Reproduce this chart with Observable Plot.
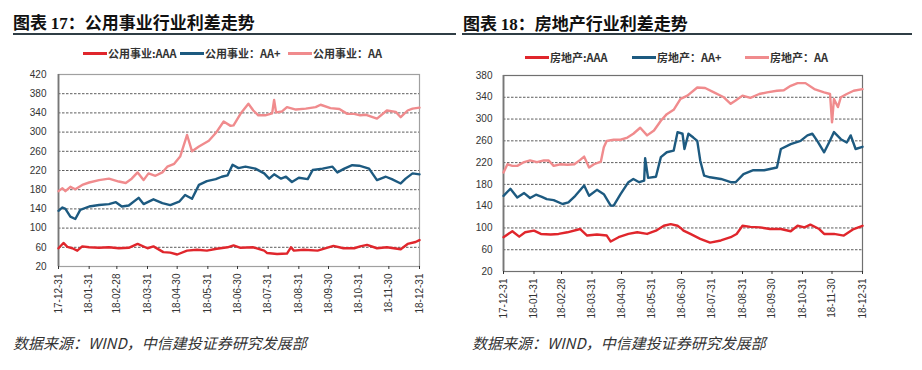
<!DOCTYPE html>
<html><head><meta charset="utf-8">
<script src="https://cdn.jsdelivr.net/npm/d3@7"></script>
<script src="https://cdn.jsdelivr.net/npm/@observablehq/plot@0.6"></script>
<style>
body{margin:0;background:#fff;width:922px;height:370px;position:relative;overflow:hidden;font-family:"Noto Sans CJK SC",sans-serif;}
.title{position:absolute;font-size:17px;font-weight:bold;color:#111;white-space:nowrap;line-height:22px;}
.title .num{font-family:"Liberation Serif",serif;}
.rule{position:absolute;top:33px;height:2px;background:#2f3d45;}
.item{position:absolute;display:flex;align-items:center;height:14px;font-size:11px;font-weight:bold;color:#333;white-space:nowrap;}
.sw{display:inline-block;width:24px;height:3px;margin-right:1px;}
.caption{position:absolute;top:333px;font-size:15px;line-height:20px;font-style:italic;color:#333;white-space:nowrap;}
.chart{position:absolute;top:60px;}
</style></head>
<body>
<div class="title" style="left:13px;top:11px">图表 <span class="num">17</span>：公用事业行业利差走势</div>
<div class="rule" style="left:13px;width:443px"></div>
<div class="title" style="left:463px;top:12px">图表 <span class="num">18</span>：房地产行业利差走势</div>
<div class="rule" style="left:462px;width:450px"></div>
<div id="leg17"></div>
<div id="leg18"></div>
<div id="c17" class="chart" style="left:0px"></div>
<div id="c18" class="chart" style="left:460px"></div>
<div class="caption" style="left:13px">数据来源：WIND，中信建投证券研究发展部</div>
<div class="caption" style="left:472px">数据来源：WIND，中信建投证券研究发展部</div>
<script>
// ---- shared axis data ----
const tickDates = ["2017-12-31","2018-01-31","2018-02-28","2018-03-31","2018-04-30","2018-05-31","2018-06-30","2018-07-31","2018-08-31","2018-09-30","2018-10-31","2018-11-30","2018-12-31"];
const tickLabels = ["17-12-31","18-01-31","18-02-28","18-03-31","18-04-30","18-05-31","18-06-30","18-07-31","18-08-31","18-09-30","18-10-31","18-11-30","18-12-31"];
const yTicks17 = [20,60,100,140,180,220,260,300,340,380,420];
const yTicks18 = [20,60,100,140,180,220,260,300,340,380];
const names17 = ["公用事业:AAA","公用事业：AA+","公用事业：AA"];
const names18 = ["房地产:AAA","房地产：AA+","房地产：AA"];
const colors = ["#e0262c","#1d5a80","#f08b8d"];

// ---- 公用事业 (chart 17) ----
const u17AAA_d = ["2017-12-31","2018-01-05","2018-01-09","2018-01-14","2018-01-19","2018-01-24","2018-01-31","2018-02-10","2018-02-20","2018-03-02","2018-03-12","2018-03-21","2018-03-31","2018-04-06","2018-04-16","2018-04-23","2018-04-30","2018-05-10","2018-05-20","2018-05-30","2018-06-09","2018-06-20","2018-06-26","2018-07-03","2018-07-16","2018-07-27","2018-07-30","2018-08-09","2018-08-19","2018-08-23","2018-08-26","2018-09-05","2018-09-19","2018-10-05","2018-10-15","2018-10-26","2018-11-01","2018-11-08","2018-11-18","2018-11-28","2018-12-12","2018-12-19","2018-12-27","2018-12-31"];
const u17AAA_v = [58,69,61,58,53,62,60,59,60,58,59,67,58,62,50,49,45,53,55,53,57,60,64,59,60,53,48,46,47,60,53,55,53,63,58,58,62,65,58,60,56,67,71,75];

const u17AAp_d = ["2017-12-31","2018-01-04","2018-01-07","2018-01-12","2018-01-17","2018-01-22","2018-01-31","2018-02-10","2018-02-20","2018-02-27","2018-03-05","2018-03-12","2018-03-22","2018-03-27","2018-04-06","2018-04-15","2018-04-23","2018-05-02","2018-05-08","2018-05-15","2018-05-22","2018-05-30","2018-06-08","2018-06-14","2018-06-20","2018-06-25","2018-07-01","2018-07-08","2018-07-18","2018-07-27","2018-08-01","2018-08-06","2018-08-13","2018-08-18","2018-08-24","2018-08-31","2018-09-09","2018-09-14","2018-09-24","2018-10-04","2018-10-09","2018-10-16","2018-10-24","2018-10-31","2018-11-10","2018-11-18","2018-11-27","2018-12-03","2018-12-12","2018-12-17","2018-12-24","2018-12-31"];
const u17AAp_v = [136,143,140,124,119,138,145,148,150,154,145,147,163,150,160,152,148,155,169,161,190,198,202,207,210,232,225,228,224,214,203,212,203,207,196,205,202,221,224,228,216,224,231,230,224,200,207,202,193,203,214,212];

const u17AA_d = ["2017-12-31","2018-01-04","2018-01-07","2018-01-12","2018-01-17","2018-01-24","2018-01-31","2018-02-10","2018-02-20","2018-03-02","2018-03-09","2018-03-15","2018-03-21","2018-03-27","2018-04-01","2018-04-08","2018-04-15","2018-04-20","2018-04-27","2018-05-03","2018-05-10","2018-05-15","2018-05-22","2018-06-01","2018-06-08","2018-06-16","2018-06-23","2018-06-26","2018-07-03","2018-07-11","2018-07-16","2018-07-21","2018-07-28","2018-08-04","2018-08-06","2018-08-08","2018-08-14","2018-08-19","2018-08-28","2018-09-07","2018-09-17","2018-09-22","2018-10-02","2018-10-11","2018-10-19","2018-10-26","2018-11-01","2018-11-07","2018-11-18","2018-11-28","2018-12-07","2018-12-12","2018-12-19","2018-12-24","2018-12-31"];
const u17AA_v = [177,183,177,186,181,190,195,200,203,197,194,203,216,200,214,209,216,228,234,249,294,260,270,282,298,322,313,314,338,359,345,335,335,339,367,341,343,352,347,349,352,357,350,348,338,338,335,336,328,345,342,331,345,349,351];

// ---- 房地产 (chart 18) ----
const r18AAA_d = ["2017-12-31","2018-01-09","2018-01-16","2018-01-22","2018-01-31","2018-02-07","2018-02-17","2018-02-25","2018-03-06","2018-03-19","2018-03-26","2018-04-05","2018-04-15","2018-04-19","2018-04-27","2018-05-07","2018-05-16","2018-05-26","2018-06-04","2018-06-12","2018-06-19","2018-06-26","2018-06-29","2018-07-02","2018-07-09","2018-07-19","2018-07-29","2018-08-09","2018-08-19","2018-08-25","2018-08-31","2018-09-08","2018-09-18","2018-09-28","2018-10-09","2018-10-19","2018-10-26","2018-11-02","2018-11-08","2018-11-17","2018-11-22","2018-12-02","2018-12-12","2018-12-22","2018-12-31"];
const r18AAA_v = [83,94,84,92,95,89,88,89,92,98,86,88,86,75,83,89,92,89,95,104,107,104,100,95,89,80,73,77,83,89,104,102,101,98,98,94,104,101,106,98,89,89,86,98,104];

const r18AAp_d = ["2017-12-31","2018-01-07","2018-01-14","2018-01-21","2018-01-27","2018-02-02","2018-02-08","2018-02-13","2018-02-20","2018-03-01","2018-03-07","2018-03-14","2018-03-23","2018-03-28","2018-04-05","2018-04-12","2018-04-19","2018-04-22","2018-04-29","2018-05-07","2018-05-12","2018-05-18","2018-05-23","2018-05-24","2018-05-27","2018-06-04","2018-06-09","2018-06-15","2018-06-22","2018-06-26","2018-07-01","2018-07-03","2018-07-07","2018-07-12","2018-07-16","2018-07-19","2018-07-23","2018-07-29","2018-08-09","2018-08-19","2018-08-24","2018-09-01","2018-09-11","2018-09-22","2018-10-05","2018-10-09","2018-10-19","2018-10-29","2018-11-05","2018-11-10","2018-11-15","2018-11-22","2018-11-27","2018-12-02","2018-12-09","2018-12-15","2018-12-19","2018-12-24","2018-12-31"];
const r18AAp_v = [159,172,156,164,155,161,157,153,151,144,147,159,178,159,170,162,141,141,162,184,190,184,187,228,192,194,230,239,242,276,273,245,273,266,260,224,196,193,190,184,184,199,206,206,211,245,254,260,270,273,260,239,257,276,263,257,270,245,249];

const r18AA_d = ["2017-12-31","2018-01-04","2018-01-09","2018-01-14","2018-01-21","2018-01-27","2018-02-03","2018-02-10","2018-02-15","2018-02-20","2018-02-27","2018-03-06","2018-03-13","2018-03-19","2018-03-23","2018-03-28","2018-04-02","2018-04-09","2018-04-12","2018-04-15","2018-04-22","2018-04-29","2018-05-06","2018-05-12","2018-05-19","2018-05-26","2018-06-02","2018-06-09","2018-06-15","2018-06-22","2018-06-29","2018-07-06","2018-07-16","2018-07-24","2018-08-02","2018-08-12","2018-08-19","2018-08-24","2018-08-31","2018-09-08","2018-09-17","2018-09-25","2018-10-05","2018-10-12","2018-10-19","2018-10-26","2018-11-03","2018-11-12","2018-11-22","2018-11-28","2018-11-30","2018-12-02","2018-12-06","2018-12-09","2018-12-15","2018-12-22","2018-12-31"];
const r18AA_v = [202,217,214,214,221,224,221,224,224,214,217,216,217,225,231,211,217,222,248,260,262,262,266,273,284,270,279,297,309,317,337,343,358,357,349,340,328,334,343,339,346,349,352,353,361,366,366,355,349,346,294,337,322,340,346,352,355];

// ---- build rows ----
function rows(dates, vals, s) { return dates.map((d, i) => ({date: new Date(d), value: vals[i], series: s})); }
const data17 = [...rows(u17AAA_d, u17AAA_v, names17[0]), ...rows(u17AAp_d, u17AAp_v, names17[1]), ...rows(u17AA_d, u17AA_v, names17[2])];
const data18 = [...rows(r18AAA_d, r18AAA_v, names18[0]), ...rows(r18AAp_d, r18AAp_v, names18[1]), ...rows(r18AA_d, r18AA_v, names18[2])];

const labelOf = new Map(tickDates.map((d, i) => [+new Date(d), tickLabels[i]]));
const tickDateObjs = tickDates.map(d => new Date(d));

function chart(o) {
  return Plot.plot({
    width: o.width, height: 265,
    marginLeft: o.ml, marginRight: o.mr, marginTop: o.mt, marginBottom: o.mb,
    style: {fontFamily: "'Liberation Sans', Arial, sans-serif", fontSize: "10px", color: "#333", background: "none", overflow: "visible"},
    x: {type: "utc", domain: [tickDateObjs[0], tickDateObjs[tickDateObjs.length - 1]]},
    y: {domain: [o.yTicks[0], o.yTicks[o.yTicks.length - 1]]},
    color: {domain: o.names, range: colors},
    marks: [
      Plot.ruleY(o.yTicks.slice(1, -1), {stroke: "#333", strokeWidth: 0.8, strokeDasharray: "2.5,1.5"}),
      Plot.frame({stroke: o.frame, strokeWidth: 1.2}),
      Plot.ruleX([tickDateObjs[0]], {stroke: "#777", strokeWidth: 1.8}),
      Plot.line(o.data, {x: "date", y: "value", z: "series", stroke: "series", strokeWidth: 2.4, strokeLinejoin: "round"}),
      Plot.axisY({ticks: o.yTicks, tickSize: 0, tickPadding: o.yPad, label: null}),
      Plot.axisX({ticks: tickDateObjs, tickFormat: d => labelOf.get(+d), tickRotate: -90, tickSize: 3, tickPadding: 4, label: null})
    ]
  });
}

document.getElementById("c17").append(chart({data: data17, names: names17, yTicks: yTicks17, width: 460, ml: 58, mr: 41, mt: 14, mb: 59, yPad: 12, frame: "#a0a0a0"}));
document.getElementById("c18").append(chart({data: data18, names: names18, yTicks: yTicks18, width: 462, ml: 43, mr: 60, mt: 15, mb: 54, yPad: 11, frame: "#707070"}));

function legend(id, names, xs, top) {
  const el = document.getElementById(id);
  names.forEach((n, i) => {
    const it = document.createElement("div");
    it.className = "item";
    it.style.left = xs[i] + "px";
    it.style.top = top + "px";
    it.innerHTML = `<span class="sw" style="background:${colors[i]}"></span><span>${n}</span>`;
    el.append(it);
  });
}
legend("leg17", names17, [83, 180, 288], 46);
legend("leg18", names18, [525, 632, 745], 50);
</script>
</body></html>
